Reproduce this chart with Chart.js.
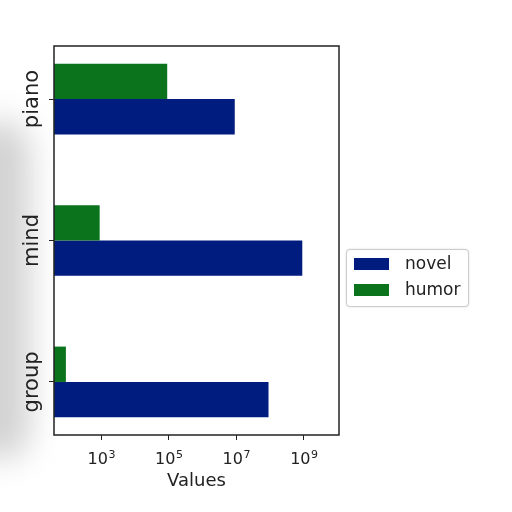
<!DOCTYPE html>
<html>
<head>
<meta charset="utf-8">
<script src="https://cdn.jsdelivr.net/npm/chart.js@4/dist/chart.umd.min.js"></script>
<style>
  html, body { margin: 0; padding: 0; background: #fff; }
  #wrap { position: relative; width: 512px; height: 512px; overflow: hidden; background: #fff; }
  #shade {
    position: absolute; left: -30px; top: 120px; width: 60px; height: 340px;
    background: #d2d2d2; filter: blur(16px); border-radius: 30px;
  }
  #chart { position: absolute; left: 0; top: 0; }
  #legend {
    position: absolute; left: 346px; top: 249px; width: 121px; height: 56px;
    border: 1.5px solid #ccc; border-radius: 4px; background: #fff;
    font-family: "DejaVu Sans", sans-serif; font-size: 17px; color: #222;
    box-shadow: 0 0 2px rgba(0,0,0,0.15);
  }
  .item { position: absolute; left: 7px; height: 12px; }
  .swatch { position: absolute; left: 0; top: 0; width: 35px; height: 12px; }
  .lbl { position: absolute; left: 51px; top: -5px; white-space: nowrap; }
</style>
</head>
<body>
<div id="wrap">
  <div id="shade"></div>
  <canvas id="chart" width="512" height="512"></canvas>
  <div id="legend"></div>
</div>
<script>
// chart data (bottom to top, like the picture's y axis)
const categories = ['group', 'mind', 'piano'];
const novelValues = [9e7, 9e8, 9e6];
const humorValues = [90, 900, 9e4];
const tickExponents = [3, 5, 7, 9];

const NAVY = '#001c7f';
const GREEN = '#0a731c';
const TEXT = '#222';

const toPoints = (vals) => vals.map((v, i) => ({ x: v, y: i }));

// white plot background, frame, and hand-drawn tick labels
const axesDecor = {
    id: 'axesDecor',
    beforeDraw(chart) {
        const a = chart.chartArea;
        chart.ctx.save();
        chart.ctx.fillStyle = '#fff';
        chart.ctx.fillRect(a.left, a.top, a.right - a.left, a.bottom - a.top);
        chart.ctx.restore();
    },
    afterDraw(chart) {
        const a = chart.chartArea;
        const ctx = chart.ctx;
        const xs = chart.scales.x;
        const ys = chart.scales.y;
        ctx.save();
        ctx.strokeStyle = TEXT;
        ctx.lineWidth = 1.5;
        ctx.strokeRect(a.left, a.top, a.right - a.left, a.bottom - a.top);

        ctx.fillStyle = TEXT;
        // y labels, reading bottom to top
        ctx.font = '21px "DejaVu Sans"';
        ctx.textAlign = 'center';
        ctx.textBaseline = 'alphabetic';
        categories.forEach((name, i) => {
            ctx.save();
            ctx.translate(38, ys.getPixelForValue(i));
            ctx.rotate(-Math.PI / 2);
            ctx.fillText(name, 0, 0);
            ctx.restore();
        });

        // x labels
        ctx.textAlign = 'left';
        tickExponents.forEach(e => {
            const px = xs.getPixelForValue(Math.pow(10, e));
            ctx.font = '16px "DejaVu Sans"';
            const w1 = ctx.measureText('10').width;
            ctx.font = '11px "DejaVu Sans"';
            const w2 = ctx.measureText(String(e)).width;
            const x0 = px - (w1 + w2) / 2;
            ctx.font = '16px "DejaVu Sans"';
            ctx.fillText('10', x0, 464);
            ctx.font = '11px "DejaVu Sans"';
            ctx.fillText(String(e), x0 + w1 + 0.5, 458);
        });
        ctx.restore();
    }
};

function renderLegend() {
    const box = document.getElementById('legend');
    const items = [['novel', NAVY, 8], ['humor', GREEN, 34]];
    items.forEach(([name, color, top]) => {
        const el = document.createElement('div');
        el.className = 'item';
        el.style.top = top + 'px';
        el.innerHTML = `<div class="swatch" style="background:${color}"></div><div class="lbl">${name}</div>`;
        box.appendChild(el);
    });
}

new Chart(document.getElementById('chart'), {
    type: 'bar',
    data: {
        datasets: [
            { label: 'humor', data: toPoints(humorValues), backgroundColor: GREEN },
            { label: 'novel', data: toPoints(novelValues), backgroundColor: NAVY }
        ]
    },
    options: {
        indexAxis: 'y',
        responsive: false,
        animation: false,
        devicePixelRatio: 1,
        categoryPercentage: 0.5,
        barPercentage: 1.0,
        layout: { padding: { left: 0, top: 46, right: 173, bottom: 16 } },
        plugins: { legend: { display: false }, tooltip: { enabled: false } },
        scales: {
            x: {
                type: 'logarithmic',
                min: 40,
                max: 1.1e10,
                afterBuildTicks(scale) {
                    scale.ticks = tickExponents.map(e => ({ value: Math.pow(10, e) }));
                },
                afterFit(scale) { scale.height = 61; },
                grid: { drawOnChartArea: false, drawTicks: true, tickLength: 5, color: TEXT },
                border: { display: false },
                ticks: { display: false },
                title: {
                    display: true, text: 'Values', color: TEXT,
                    font: { family: 'DejaVu Sans', size: 18 }, padding: 4
                }
            },
            y: {
                type: 'linear',
                offset: false,
                min: -0.375,
                max: 2.375,
                afterBuildTicks(scale) {
                    scale.ticks = categories.map((c, i) => ({ value: i }));
                },
                afterFit(scale) { scale.width = 54; },
                grid: { offset: false, drawOnChartArea: false, drawTicks: true, tickLength: 5, color: TEXT },
                border: { display: false },
                ticks: { display: false }
            }
        }
    },
    plugins: [axesDecor]
});

renderLegend();
</script>
</body>
</html>
